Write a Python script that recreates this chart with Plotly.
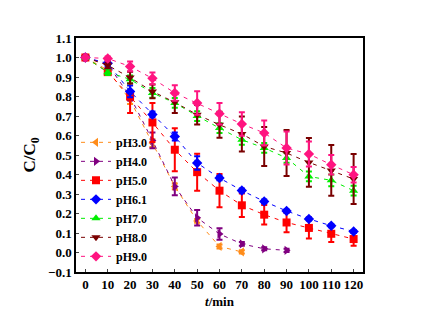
import plotly.graph_objects as go

# Reaction time (min)
t_full = [0, 10, 20, 30, 40, 50, 60, 70, 80, 90, 100, 110, 120]
t_ph3 = [0, 10, 20, 30, 40, 50, 60, 70]
t_ph4 = [0, 10, 20, 30, 40, 50, 60, 70, 80, 90]

# C/C0 values and standard deviations for each pH
ph3 = [1.0, 0.935, 0.782, 0.561, 0.339, 0.162, 0.031, 0.003]
ph3_err = [0.0, 0.01, 0.02, 0.02, 0.015, 0.01, 0.01, 0.008]

ph4 = [1.0, 0.965, 0.80, 0.575, 0.339, 0.178, 0.095, 0.044, 0.019, 0.011]
ph4_err = [0.0, 0.015, 0.02, 0.04, 0.045, 0.04, 0.03, 0.01, 0.008, 0.008]

ph5 = [1.0, 0.925, 0.80, 0.667, 0.527, 0.412, 0.317, 0.242, 0.194, 0.154, 0.126, 0.096, 0.069]
ph5_err = [0.0, 0.015, 0.085, 0.10, 0.11, 0.095, 0.085, 0.06, 0.05, 0.05, 0.054, 0.042, 0.034]

ph61 = [1.0, 0.97, 0.826, 0.708, 0.595, 0.459, 0.382, 0.318, 0.262, 0.213, 0.172, 0.137, 0.108]
ph61_err = [0.0, 0.015, 0.03, 0.015, 0.02, 0.035, 0.012, 0.01, 0.01, 0.008, 0.008, 0.008, 0.008]

ph7 = [1.0, 0.925, 0.888, 0.818, 0.767, 0.70, 0.638, 0.578, 0.536, 0.485, 0.39, 0.37, 0.317]
ph7_err = [0.0, 0.015, 0.02, 0.025, 0.025, 0.025, 0.025, 0.025, 0.025, 0.025, 0.025, 0.03, 0.025]

ph8 = [1.0, 0.96, 0.897, 0.826, 0.77, 0.707, 0.655, 0.608, 0.544, 0.51, 0.462, 0.421, 0.377]
ph8_err = [0.0, 0.015, 0.03, 0.035, 0.054, 0.05, 0.067, 0.09, 0.10, 0.118, 0.125, 0.13, 0.128]

ph9 = [1.0, 0.995, 0.954, 0.893, 0.818, 0.767, 0.712, 0.659, 0.613, 0.536, 0.505, 0.45, 0.399]
ph9_err = [0.0, 0.01, 0.025, 0.03, 0.04, 0.06, 0.055, 0.06, 0.064, 0.085, 0.064, 0.05, 0.04]

series = [
    ("pH3.0", t_ph3, ph3, ph3_err, "#FF8C1A", "triangle-left"),
    ("pH4.0", t_ph4, ph4, ph4_err, "#800080", "triangle-right"),
    ("pH5.0", t_full, ph5, ph5_err, "#FF0000", "square"),
    ("pH6.1", t_full, ph61, ph61_err, "#0000FF", "diamond"),
    ("pH7.0", t_full, ph7, ph7_err, "#00EE00", "triangle-up"),
    ("pH8.0", t_full, ph8, ph8_err, "#7A0000", "triangle-down"),
    ("pH9.0", t_full, ph9, ph9_err, "#FF1480", "diamond"),
]

FONT = "Liberation Serif, Times New Roman, serif"

fig = go.Figure()
for name, x, y, err, color, symbol in series:
    fig.add_trace(go.Scatter(
        x=x, y=y, name=name, mode="lines+markers",
        line=dict(color=color, width=1, dash="4px,5px"),
        marker=dict(symbol=symbol, size=8, color=color),
        error_y=dict(type="data", array=err, visible=True,
                     color=color, thickness=2, width=3),
    ))

fig.update_layout(
    width=422, height=326,
    margin=dict(l=76, r=59, t=38, b=54),
    paper_bgcolor="white", plot_bgcolor="white",
    font=dict(family=FONT, size=13, color="black", weight="bold"),
    showlegend=True,
    legend=dict(
        x=0.0, y=0.005, xanchor="left", yanchor="bottom",
        bgcolor="rgba(0,0,0,0)", tracegroupgap=0,
        font=dict(family=FONT, size=12, color="black", weight="bold"),
        itemwidth=30,
    ),
)

fig.update_xaxes(
    range=[-4.2, 124.2], tickmode="array", tickvals=t_full,
    ticks="inside", ticklen=3, tickwidth=1,
    showline=True, linecolor="black", linewidth=1.5, mirror=True,
    showgrid=False, zeroline=False,
    tickfont=dict(family=FONT, size=13, weight="bold"),
    title=dict(text="<i>t</i>/min", font=dict(family=FONT, size=13, weight="bold"), standoff=6),
)
fig.update_yaxes(
    range=[-0.1, 1.1], dtick=0.1, tick0=0, tickformat=".1f",
    ticks="inside", ticklen=3, tickwidth=1,
    showline=True, linecolor="black", linewidth=1.5, mirror=True,
    showgrid=False, zeroline=False,
    tickfont=dict(family=FONT, size=13, weight="bold"),
    title=dict(text="C/C<sub>0</sub>", font=dict(family=FONT, size=17, weight="bold"), standoff=8),
)

fig.write_html("out.html")
